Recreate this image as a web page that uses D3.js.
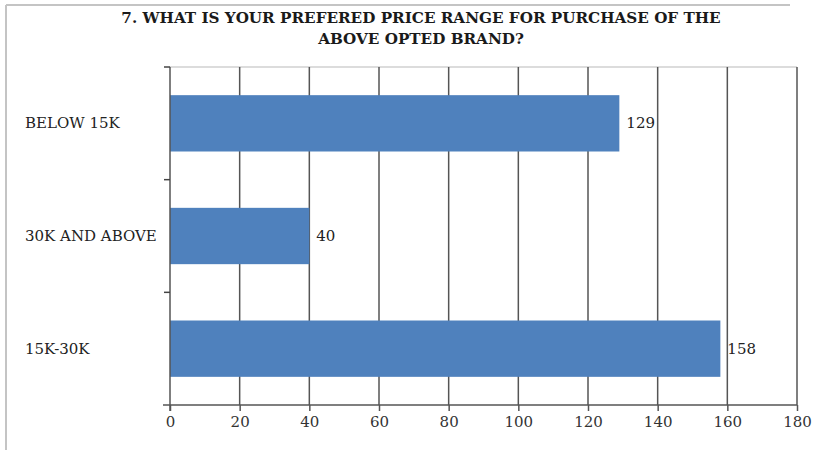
<!DOCTYPE html>
<html><head><meta charset="utf-8">
<script src="https://cdn.jsdelivr.net/npm/d3@7"></script>
<style>body{margin:0;background:#fff}svg{display:block}</style>
</head><body>
<svg id="c" width="819" height="450"></svg>
<script>
const titleLines = ["7. WHAT IS YOUR PREFERED PRICE RANGE FOR PURCHASE OF THE", "ABOVE OPTED BRAND?"];
const categories = ["BELOW 15K", "30K AND ABOVE", "15K-30K"];
const values = [129, 40, 158];
const xTicks = [0, 20, 40, 60, 80, 100, 120, 140, 160, 180];

const svg = d3.select("#c");
const serif = "'DejaVu Serif', 'Liberation Serif', serif";
const L = 170, R = 797, T = 67, B = 405;

// outer frame (partial)
svg.append("line").attr("x1", 6).attr("x2", 790).attr("y1", 5).attr("y2", 5).attr("stroke", "#c4c4c4").attr("stroke-width", 2);
svg.append("line").attr("x1", 6).attr("x2", 6).attr("y1", 5).attr("y2", 450).attr("stroke", "#c4c4c4").attr("stroke-width", 2);

// title
const title = svg.append("text").attr("text-anchor", "middle")
  .attr("font-family", serif).attr("font-weight", "bold").attr("font-size", 15.2)
  .attr("fill", "#1a1a1a");
title.selectAll("tspan").data(titleLines).join("tspan")
  .attr("x", 421).attr("y", (d, i) => 23 + i * 21).text(d => d);

const x = d3.scaleLinear().domain([0, 180]).range([L, R]);
const y = d3.scaleBand().domain(categories).range([T, B]).paddingInner(0.5).paddingOuter(0.25);
const yStep = d3.scaleBand().domain(categories).range([T, B]);

// top border of plot
svg.append("line").attr("x1", L).attr("x2", R).attr("y1", T).attr("y2", T).attr("stroke", "#d0d0d0").attr("stroke-width", 1.5);

// gridlines
svg.append("g").selectAll("line").data(xTicks.slice(1)).join("line")
  .attr("x1", d => x(d)).attr("x2", d => x(d)).attr("y1", T).attr("y2", B)
  .attr("stroke", "#555").attr("stroke-width", 1.5);

// bars
svg.append("g").selectAll("rect").data(values).join("rect")
  .attr("x", x(0)).attr("y", (d, i) => y(categories[i]))
  .attr("width", d => x(d) - x(0)).attr("height", y.bandwidth())
  .attr("fill", "#4f81bd");

// value labels
svg.append("g").selectAll("text").data(values).join("text")
  .attr("x", d => x(d) + 7).attr("y", (d, i) => y(categories[i]) + y.bandwidth() / 2 + 5)
  .attr("font-family", serif).attr("font-size", 15).attr("fill", "#222").text(d => d);

// x axis
const xAxis = svg.append("g").attr("transform", `translate(0,${B})`)
  .call(d3.axisBottom(x).tickValues(xTicks).tickSize(6).tickPadding(5).tickSizeOuter(0));
xAxis.select(".domain").remove();
xAxis.append("line").attr("x1", L - 7).attr("x2", R).attr("stroke", "#555").attr("stroke-width", 1.5);
xAxis.selectAll(".tick line").attr("stroke", "#555").attr("stroke-width", 1.5);
xAxis.selectAll(".tick text").attr("font-family", serif).attr("font-size", 15).attr("fill", "#333");

// y axis
const yAxis = svg.append("g");
yAxis.append("line").attr("x1", L).attr("x2", L).attr("y1", T).attr("y2", B + 6).attr("stroke", "#555").attr("stroke-width", 1.5);
const bounds = categories.map(c => yStep(c));
yAxis.selectAll("line.t").data(bounds).join("line").attr("class", "t")
  .attr("x1", L - 6).attr("x2", L).attr("y1", d => d).attr("y2", d => d)
  .attr("stroke", "#444").attr("stroke-width", 1.5);

// category labels
svg.append("g").selectAll("text").data(categories).join("text")
  .attr("x", 25).attr("y", d => y(d) + y.bandwidth() / 2 + 5)
  .attr("font-family", serif).attr("font-size", 15).attr("fill", "#222").text(d => d);
</script>
</body></html>
